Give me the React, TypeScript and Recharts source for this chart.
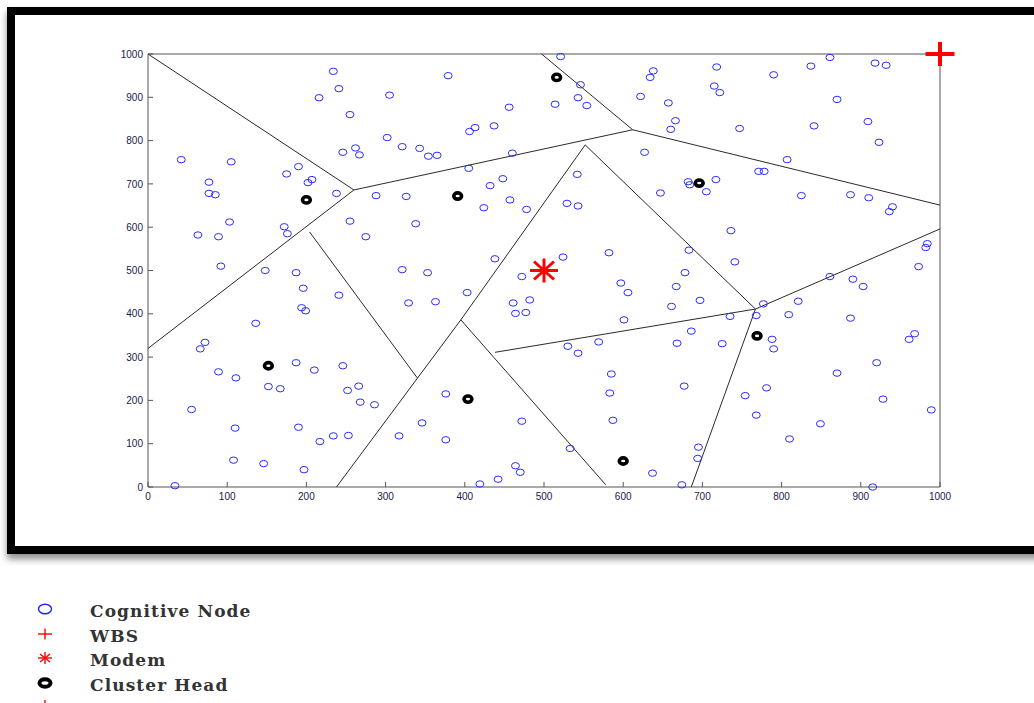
import React from 'react';
import { ScatterChart, Scatter, XAxis, YAxis, ReferenceLine } from 'recharts';

// Cognitive nodes
const nodeX = [
  234, 241, 216, 305, 255, 302, 321, 246, 262, 267, 42, 105, 190, 175, 77, 207, 202, 77, 85, 238, 288, 326, 103, 172, 176, 255, 63, 89, 275, 338,
  521, 379, 546, 543, 554, 514, 456, 437, 413, 406, 343, 354, 365, 460, 405, 542, 448, 432, 457, 424, 478, 529, 543, 647, 438, 524, 582, 634, 638, 622, 657, 666, 660, 627,
  718, 790, 837, 861, 918, 932, 715, 722, 870, 747, 841, 909, 923, 807, 771, 778, 682, 684, 717, 705, 825, 887, 910, 940, 936, 736, 683, 741, 984, 982, 973,
  92, 148, 187, 196, 241, 194, 199, 136, 72, 66, 321, 329, 187, 210, 246, 89, 111, 152, 167, 266, 252, 268, 286, 55, 110, 190, 217, 234, 253, 317, 108, 146, 197, 34,
  353, 403, 363, 472, 461, 482, 464, 477, 597, 606, 601, 667, 661, 668, 530, 543, 569, 585, 583, 587, 376, 346, 472, 376, 533, 464, 470, 442, 419, 637,
  678, 697, 861, 890, 903, 777, 821, 809, 768, 735, 887, 686, 725, 788, 790, 961, 968, 920, 870, 677, 781, 754, 928, 989, 768, 849, 810, 695, 694, 674, 915,
];
const nodeY = [
  960, 920, 899, 905, 860, 807, 786, 773, 783, 767, 756, 751, 740, 723, 704, 710, 703, 678, 675, 678, 673, 671, 612, 601, 585, 614, 582, 578, 578, 608,
  994, 950, 929, 899, 881, 884, 877, 834, 830, 821, 782, 764, 766, 771, 736, 722, 712, 696, 663, 645, 641, 655, 649, 679, 527, 531, 541, 946, 961, 902, 887, 846, 826, 773,
  970, 952, 972, 992, 979, 974, 926, 911, 895, 828, 834, 844, 796, 756, 729, 729, 705, 698, 710, 682, 673, 675, 668, 647, 636, 592, 547, 520, 562, 553, 509,
  510, 500, 495, 459, 443, 414, 407, 378, 334, 319, 502, 425, 287, 270, 280, 266, 252, 232, 227, 233, 223, 196, 190, 179, 136, 138, 105, 118, 119, 118, 62, 54, 40, 3,
  495, 449, 428, 486, 425, 432, 401, 403, 471, 449, 386, 463, 417, 332, 325, 309, 335, 261, 217, 154, 215, 148, 152, 109, 89, 49, 34, 18, 7, 32,
  495, 431, 486, 480, 463, 423, 429, 398, 396, 394, 390, 360, 331, 341, 319, 341, 354, 287, 263, 233, 229, 211, 203, 178, 166, 146, 111, 92, 66, 5, 0,
];

// Cluster heads
const headX = [200, 516, 391, 696, 152, 404, 600, 769];
const headY = [663, 946, 672, 702, 280, 203, 60, 349];

// Modem and WBS
const modemX = [500];
const modemY = [500];
const wbsX = [1000];
const wbsY = [1000];

// Voronoi edges: x1, y1, x2, y2
const edgeX1 = [0, 260, 260, 612, 612, 552, 552, 395, 395, 204, 438, 767, 767];
const edgeY1 = [1000, 686, 686, 825, 825, 790, 790, 386, 386, 589, 311, 411, 411];
const edgeX2 = [260, 0, 612, 1000, 497, 395, 767, 238, 578, 340, 767, 1000, 686];
const edgeY2 = [686, 320, 825, 651, 1000, 386, 411, 0, 5, 252, 411, 596, 0];

const axisTicks = [0, 100, 200, 300, 400, 500, 600, 700, 800, 900, 1000];
const axisMin = 0;
const axisMax = 1000;

const legendLabels = ['Cognitive Node', 'WBS', 'Modem', 'Cluster Head'];

const nodeData = nodeX.map((x, i) => ({ x, y: nodeY[i] }));
const headData = headX.map((x, i) => ({ x, y: headY[i] }));
const modemData = modemX.map((x, i) => ({ x, y: modemY[i] }));
const wbsData = wbsX.map((x, i) => ({ x, y: wbsY[i] }));

const AXIS = '#555';
const LABEL = '#1a1a4a';
const FONT = 'Liberation Sans, Arial, sans-serif';

const NodeShape = (p: any) => (
  <ellipse cx={p.cx} cy={p.cy} rx={4} ry={3.2} fill="none" stroke="#2b2bff" strokeWidth={1} />
);
const HeadShape = (p: any) => (
  <ellipse cx={p.cx} cy={p.cy} rx={3.9} ry={3.1} fill="none" stroke="#000" strokeWidth={3.6} />
);
const ModemShape = (p: any) => {
  const { cx, cy } = p;
  return (
    <g stroke="#ff0000" strokeWidth={3}>
      <line x1={cx - 14} y1={cy} x2={cx + 14} y2={cy} />
      <line x1={cx} y1={cy - 12} x2={cx} y2={cy + 12} />
      <line x1={cx - 10} y1={cy - 9} x2={cx + 10} y2={cy + 9} />
      <line x1={cx - 10} y1={cy + 9} x2={cx + 10} y2={cy - 9} />
    </g>
  );
};
const WbsShape = (p: any) => {
  const { cx, cy } = p;
  return (
    <g stroke="#ff0000" strokeWidth={4}>
      <line x1={cx - 14.5} y1={cy} x2={cx + 14.5} y2={cy} />
      <line x1={cx} y1={cy - 12} x2={cx} y2={cy + 12} />
    </g>
  );
};

// Bottom axis: label below, inward tick above (label y = axis + 5)
const BottomTick = (p: any) => (
  <g>
    <line x1={p.x} y1={p.y - 5} x2={p.x} y2={p.y - 10} stroke={AXIS} strokeWidth={1} />
    <text x={p.x} y={p.y} dy="0.75em" textAnchor="middle" fill={LABEL} fontSize={10} fontFamily={FONT}>
      {p.payload.value}
    </text>
  </g>
);
// Left axis: label left, inward tick to the right (label x = axis - 5)
const LeftTick = (p: any) => (
  <g>
    <line x1={p.x + 5} y1={p.y} x2={p.x + 10} y2={p.y} stroke={AXIS} strokeWidth={1} />
    <text x={p.x} y={p.y} dy="0.36em" textAnchor="end" fill={LABEL} fontSize={10} fontFamily={FONT}>
      {p.payload.value}
    </text>
  </g>
);
const TopTick = (p: any) => (
  <line x1={p.x} y1={p.y} x2={p.x} y2={p.y + 5} stroke={AXIS} strokeWidth={1} />
);
const RightTick = (p: any) => (
  <line x1={p.x} y1={p.y} x2={p.x - 5} y2={p.y} stroke={AXIS} strokeWidth={1} />
);

export default function App() {
  return (
    <div style={{ position: 'absolute', left: 0, top: 0, width: 1034, height: 703, overflow: 'hidden', background: '#fff' }}>
      <div
        style={{
          position: 'absolute',
          left: 7,
          top: 7,
          width: 1100,
          height: 547,
          border: '8px solid #000',
          boxSizing: 'border-box',
          boxShadow: '0 5px 7px rgba(0,0,0,0.45)',
          background: '#fff',
        }}
      />
      <div style={{ position: 'absolute', left: 0, top: 0 }}>
        <ScatterChart width={1034} height={560} margin={{ top: 54, right: 94, bottom: 43, left: 100 }}>
          <XAxis
            xAxisId={0}
            type="number"
            dataKey="x"
            domain={[axisMin, axisMax]}
            ticks={axisTicks}
            tickSize={0}
            tickMargin={5}
            height={30}
            tickLine={false}
            axisLine={false}
            tick={BottomTick}
            interval={0}
          />
          <XAxis
            xAxisId="top"
            orientation="top"
            type="number"
            domain={[axisMin, axisMax]}
            ticks={axisTicks}
            tickSize={0}
            tickMargin={0}
            height={0}
            tickLine={false}
            axisLine={false}
            tick={TopTick}
            interval={0}
          />
          <YAxis
            yAxisId={0}
            type="number"
            dataKey="y"
            domain={[axisMin, axisMax]}
            ticks={axisTicks}
            tickSize={0}
            tickMargin={5}
            width={48}
            tickLine={false}
            axisLine={false}
            tick={LeftTick}
            interval={0}
          />
          <YAxis
            yAxisId="right"
            orientation="right"
            type="number"
            domain={[axisMin, axisMax]}
            ticks={axisTicks}
            tickSize={0}
            tickMargin={0}
            width={0}
            tickLine={false}
            axisLine={false}
            tick={RightTick}
            interval={0}
          />
          <ReferenceLine x={axisMin} stroke={AXIS} strokeWidth={1} ifOverflow="visible" />
          <ReferenceLine x={axisMax} stroke={AXIS} strokeWidth={1} ifOverflow="visible" />
          <ReferenceLine y={axisMin} stroke={AXIS} strokeWidth={1} ifOverflow="visible" />
          <ReferenceLine y={axisMax} stroke={AXIS} strokeWidth={1} ifOverflow="visible" />
          {edgeX1.map((x1, i) => (
            <ReferenceLine
              key={'e' + i}
              segment={[
                { x: x1, y: edgeY1[i] },
                { x: edgeX2[i], y: edgeY2[i] },
              ]}
              stroke="#2a2a2a"
              strokeWidth={1}
              ifOverflow="visible"
            />
          ))}
          <Scatter data={nodeData} shape={NodeShape} isAnimationActive={false} />
          <Scatter data={headData} shape={HeadShape} isAnimationActive={false} />
          <Scatter data={modemData} shape={ModemShape} isAnimationActive={false} />
          <Scatter data={wbsData} shape={WbsShape} isAnimationActive={false} />
        </ScatterChart>
      </div>
      <svg width={1034} height={703} style={{ position: 'absolute', left: 0, top: 0, pointerEvents: 'none' }}>
        <ellipse cx={45} cy={609} rx={6.5} ry={4.8} fill="none" stroke="#2020ff" strokeWidth={1.4} />
        <g stroke="#ff0000" strokeWidth={1.4}>
          <line x1={38} y1={634} x2={52} y2={634} />
          <line x1={45} y1={628.5} x2={45} y2={639.5} />
        </g>
        <g stroke="#ff0000" strokeWidth={1.4}>
          <line x1={38} y1={658} x2={52} y2={658} />
          <line x1={45} y1={652} x2={45} y2={664} />
          <line x1={40} y1={654} x2={50} y2={662} />
          <line x1={40} y1={662} x2={50} y2={654} />
        </g>
        <ellipse cx={45} cy={683} rx={5.5} ry={3.8} fill="none" stroke="#000" strokeWidth={4} />
        <g stroke="#ff0000" strokeWidth={1.4}>
          <line x1={45} y1={700} x2={45} y2={712} />
        </g>
        {legendLabels.map((t, i) => (
          <text
            key={t}
            x={90}
            y={617 + i * 24.5}
            fontFamily="DejaVu Serif, serif"
            fontWeight="bold"
            fontSize={17}
            letterSpacing={1.1}
            fill="#333"
          >
            {t}
          </text>
        ))}
      </svg>
    </div>
  );
}
